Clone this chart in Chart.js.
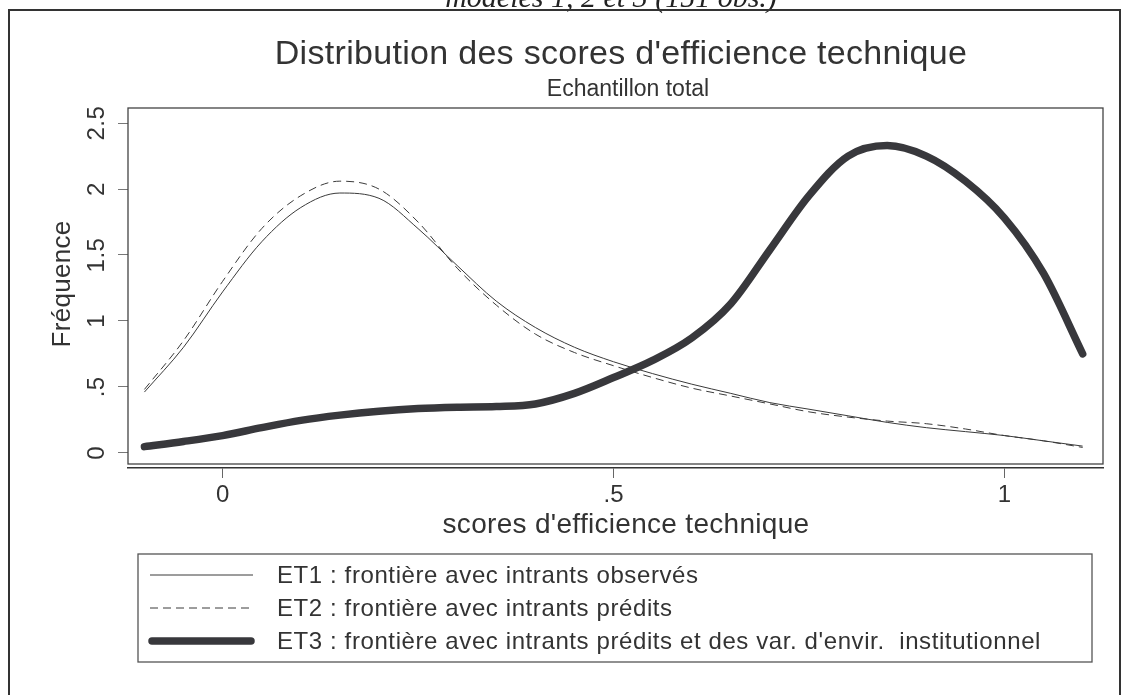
<!DOCTYPE html>
<html>
<head>
<meta charset="utf-8">
<script src="https://cdn.jsdelivr.net/npm/chart.js@4/dist/chart.umd.min.js"></script>
<style>
  html, body { margin: 0; padding: 0; background: #fff; }
  #wrap { width: 1128px; height: 695px; }
</style>
</head>
<body>
<div id="wrap"><canvas id="chart" width="1128" height="695"></canvas></div>
<script>
// scores d'efficience (axe x) et densités estimées
const scores = [-0.1, -0.05, 0, 0.05, 0.1, 0.15, 0.2, 0.25, 0.3, 0.35, 0.4, 0.45, 0.5,
  0.55, 0.6, 0.65, 0.7, 0.75, 0.8, 0.85, 0.9, 0.95, 1.0, 1.05, 1.1];
const et1 = [0.46, 0.80, 1.22, 1.60, 1.86, 1.97, 1.93, 1.70, 1.42, 1.15, 0.95, 0.80, 0.69,
  0.60, 0.52, 0.45, 0.38, 0.33, 0.28, 0.23, 0.19, 0.16, 0.13, 0.09, 0.05];
const et2 = [0.48, 0.85, 1.30, 1.70, 1.95, 2.06, 2.00, 1.75, 1.40, 1.12, 0.90, 0.76, 0.66,
  0.57, 0.49, 0.43, 0.37, 0.31, 0.27, 0.24, 0.22, 0.18, 0.13, 0.09, 0.04];
const et3 = [0.046, 0.085, 0.13, 0.19, 0.245, 0.285, 0.315, 0.335, 0.345, 0.35, 0.37, 0.45, 0.57,
  0.70, 0.87, 1.13, 1.54, 1.95, 2.25, 2.33, 2.25, 2.06, 1.78, 1.36, 0.75];
const legendLabels = [
  'ET1 : frontière avec intrants observés',
  'ET2 : frontière avec intrants prédits',
  "ET3 : frontière avec intrants prédits et des var. d'envir.  institutionnel",
];
const xTicks = [0, 0.5, 1];
const yTicks = [0, 0.5, 1, 1.5, 2, 2.5];

const FONT = "'Liberation Sans', Arial, sans-serif";
const INK = '#333';

function fmt(v) {
  return String(v).replace(/^0\./, '.');
}

function pts(ys) {
  return scores.map((x, i) => ({ x: x, y: ys[i] }));
}

function text(ctx, s, x, y, size, spacing) {
  ctx.font = size + 'px ' + FONT;
  ctx.letterSpacing = (spacing || 0) + 'px';
  ctx.fillText(s, x, y);
  ctx.letterSpacing = '0px';
}

// cadre, titres, étiquettes y pivotées et légende
const decor = {
  id: 'decor',
  afterDraw(chart) {
    const ctx = chart.ctx;
    const a = chart.chartArea;
    ctx.save();

    // texte coupé en haut de page
    ctx.fillStyle = '#222';
    ctx.font = "italic 30px 'Liberation Serif', serif";
    ctx.textAlign = 'center';
    ctx.textBaseline = 'alphabetic';
    ctx.fillText('modèles 1, 2 et 3 (151 obs.)', 611, 7);

    // cadre extérieur
    ctx.strokeStyle = INK;
    ctx.lineWidth = 2;
    ctx.beginPath();
    ctx.moveTo(9, 700);
    ctx.lineTo(9, 10);
    ctx.lineTo(1120, 10);
    ctx.lineTo(1120, 700);
    ctx.stroke();

    // titres
    ctx.fillStyle = INK;
    text(ctx, "Distribution des scores d'efficience technique", 621, 64, 34, 0.3);
    text(ctx, 'Echantillon total', 628, 96, 23, 0);

    // cadre du graphique
    ctx.lineWidth = 1.3;
    ctx.strokeStyle = '#444';
    ctx.strokeRect(a.left, a.top, a.right - a.left, a.bottom - 4 - a.top);

    // titre de l'axe x
    ctx.textBaseline = 'middle';
    text(ctx, "scores d'efficience technique", 626, 525, 28, 0.3);

    // titre et étiquettes de l'axe y, pivotés
    ctx.save();
    ctx.translate(63, 284);
    ctx.rotate(-Math.PI / 2);
    text(ctx, 'Fréquence', 0, 0, 26, 0.3);
    ctx.restore();

    const ys = chart.scales.y;
    ys.ticks.forEach(t => {
      const py = ys.getPixelForValue(t.value);
      ctx.save();
      ctx.translate(97, py);
      ctx.rotate(-Math.PI / 2);
      text(ctx, fmt(t.value), 0, 0, 24, 0.5);
      ctx.restore();
    });

    // légende
    ctx.lineWidth = 1.3;
    ctx.strokeStyle = '#555';
    ctx.strokeRect(138, 554, 954, 108);
    ctx.textAlign = 'left';
    const rowY = [575, 608, 641];
    chart.data.datasets.forEach((ds, i) => {
      ctx.save();
      ctx.strokeStyle = ds.borderColor;
      ctx.lineWidth = ds.borderWidth;
      ctx.lineCap = ds.borderCapStyle || 'butt';
      ctx.setLineDash(ds.borderDash || []);
      ctx.beginPath();
      ctx.moveTo(i === 2 ? 152 : 150, rowY[i]);
      ctx.lineTo(i === 2 ? 251 : 253, rowY[i]);
      ctx.stroke();
      ctx.restore();
      ctx.fillStyle = INK;
      text(ctx, ds.label, 277, rowY[i] + 1, 24, 0.6);
    });
    ctx.restore();
  }
};

new Chart('chart', {
  type: 'line',
  data: {
    datasets: [
      {
        label: legendLabels[0],
        data: pts(et1),
        borderColor: '#3a3a3a',
        borderWidth: 1,
      },
      {
        label: legendLabels[1],
        data: pts(et2),
        borderColor: '#3a3a3a',
        borderWidth: 1,
        borderDash: [8, 5],
      },
      {
        label: legendLabels[2],
        data: pts(et3),
        borderColor: '#38383c',
        borderWidth: 7.5,
        borderCapStyle: 'round',
      },
    ],
  },
  options: {
    responsive: false,
    animation: false,
    events: [],
    layout: { padding: { left: 0, right: 25, top: 108, bottom: 147 } },
    elements: {
      point: { radius: 0 },
      line: { tension: 0.4, cubicInterpolationMode: 'monotone' },
    },
    plugins: {
      legend: { display: false },
      tooltip: { enabled: false },
    },
    scales: {
      x: {
        type: 'linear',
        min: -0.121,
        max: 1.126,
        afterBuildTicks: (s) => { s.ticks = xTicks.map(v => ({ value: v })); },
        afterFit: (s) => { s.height = 80; },
        ticks: {
          callback: (v) => fmt(v),
          color: INK,
          font: { family: FONT, size: 24 },
          padding: 3,
          maxRotation: 0,
        },
        grid: { drawOnChartArea: false, drawTicks: true, tickLength: 10, color: '#666' },
        border: { display: true, color: '#333', width: 1.5 },
      },
      y: {
        min: -0.116,
        max: 2.615,
        afterBuildTicks: (s) => { s.ticks = yTicks.map(v => ({ value: v })); },
        afterFit: (s) => { s.width = 128; },
        ticks: { display: false },
        grid: { drawOnChartArea: false, drawTicks: true, tickLength: 10, color: '#777' },
        border: { display: false },
      },
    },
  },
  plugins: [decor],
});
</script>
</body>
</html>
